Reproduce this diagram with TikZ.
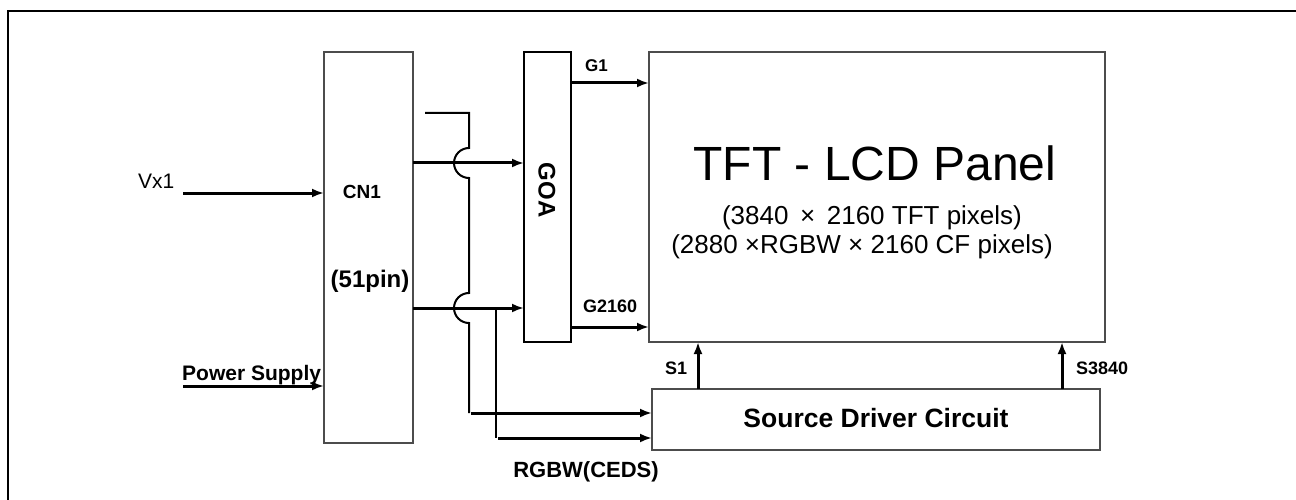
\documentclass[tikz,border=0pt]{standalone}
\usepackage{fontspec}
\setmainfont{Liberation Sans}
\usetikzlibrary{arrows.meta}
\newcommand{\fsz}[1]{\fontsize{#1}{#1}\selectfont}
\begin{document}
\begin{tikzpicture}[x=1pt,y=-1pt,
  box/.style={draw=black!70, line width=1.4pt, anchor=north west, inner sep=0pt, outer sep=0pt},
  goabox/.style={box, draw=black, line width=2.2pt},
  arr/.style={line width=3pt, -{Latex[length=12pt,width=9pt]}},
  wire/.style={line width=2pt},
  txt/.style={inner sep=0pt, anchor=base},
  txtw/.style={inner sep=0pt, anchor=base west}]
\useasboundingbox (0,0) rectangle (1296,500);
\draw[line width=2.2pt] (8,500) -- (8,11) -- (1296,11);

% boxes
\node[box, minimum width=89pt, minimum height=391pt] (cn1) at (324,52) {};
\node[goabox, minimum width=47pt, minimum height=290pt] (goa) at (524,52) {};
\node[box, minimum width=456pt, minimum height=290pt] (tft) at (649,52) {};
\node[box, minimum width=448pt, minimum height=61pt] (sdc) at (652,389) {};

% texts
\node[txt, font=\bfseries\fsz{19}] (cn1t) at (362,198) {CN1};
\node[txt, font=\bfseries\fsz{24}] (pint) at (370,287) {(51pin)};
\node[inner sep=0pt, font=\bfseries\fsz{24}, rotate=-90] (goat) at (547,190) {GOA};
\node[txt, font=\fsz{48}] (tftt) at (875,180) {TFT - LCD Panel};
\node[txt, font=\fsz{26}] (tftl2) at (872,224) {(3840 \,× \,2160 TFT pixels)};
\node[txt, font=\fsz{26}] (tftl3) at (862,253) {(2880 ×RGBW × 2160 CF pixels)};
\node[txt, font=\bfseries\fsz{26.5}] (sdct) at (876,427) {Source Driver Circuit};
\node[txtw, font=\fsz{21}] (vx1t) at (138,189) {Vx1};
\node[txtw, font=\bfseries\fsz{21}] (pst) at (182,380) {Power Supply};
\node[txtw, font=\bfseries\fsz{17}] (g1t) at (585,72) {G1};
\node[txtw, font=\bfseries\fsz{18}] (g2t) at (583,312) {G2160};
\node[txtw, font=\bfseries\fsz{18}] (s1t) at (665,374) {S1};
\node[txtw, font=\bfseries\fsz{18}] (s2t) at (1076,374) {S3840};
\node[txt, font=\bfseries\fsz{22}] (rgbt) at (586,477) {RGBW(CEDS)};

% free ends / rows
\coordinate (vx1) at (183,193);
\coordinate (ps) at (183,386);
\coordinate (ra) at (0,163);
\coordinate (rb) at (0,308);
\coordinate (rg1) at (0,83);
\coordinate (rg2) at (0,327);
\coordinate (cs1) at (698,0);
\coordinate (cs2) at (1062,0);
\coordinate (stub) at (425,113);
\coordinate (bus1) at (471,413);
\coordinate (bus2) at (498,438);

% input arrows
\draw[arr] (vx1) -- (vx1 -| cn1.west);
\draw[arr] (ps) -- (ps -| cn1.west);

% CN1 -> GOA
\draw[arr] (cn1.east |- ra) -- (goa.west |- ra);
\draw[arr] (cn1.east |- rb) -- (goa.west |- rb);

% GOA -> TFT
\draw[arr] (goa.east |- rg1) -- (tft.west |- rg1);
\draw[arr] (goa.east |- rg2) -- (tft.west |- rg2);

% Source driver -> TFT
\draw[arr] (sdc.north -| cs1) -- (tft.south -| cs1);
\draw[arr] (sdc.north -| cs2) -- (tft.south -| cs2);

% bus with hops
\draw[wire] (stub) -- (469,113) -- (469,148)
  arc[start angle=90, end angle=270, radius=15pt] -- (469,293)
  arc[start angle=90, end angle=270, radius=15pt] -- (469,413);
\draw[arr] (bus1) -- (sdc.west |- bus1);
\draw[wire] (496,308) -- (496,438);
\draw[arr] (bus2) -- (sdc.west |- bus2);
\end{tikzpicture}
\end{document}
